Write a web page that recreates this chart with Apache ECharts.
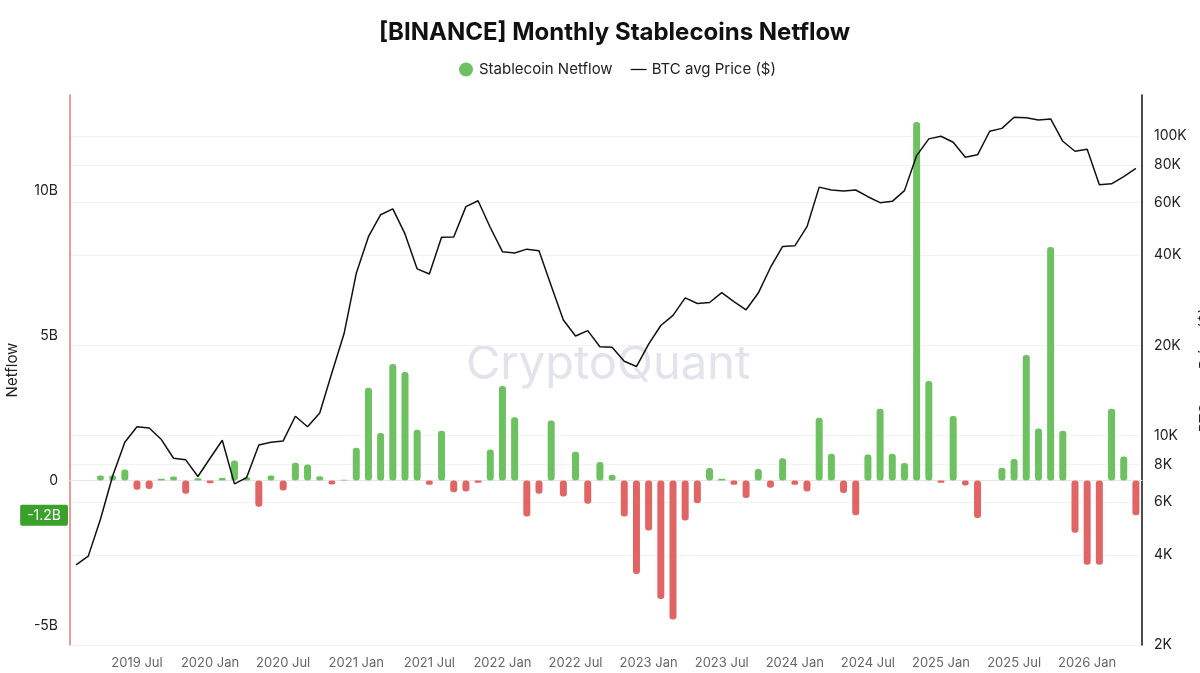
<!DOCTYPE html>
<html>
<head>
<meta charset="utf-8">
<title>[BINANCE] Monthly Stablecoins Netflow</title>
<script src="https://cdn.jsdelivr.net/npm/echarts@6/dist/echarts.min.js"></script>
<style>
    html, body { margin: 0; padding: 0; background: #fff; }
    #chart { width: 1200px; height: 673px; }
</style>
</head>
<body>
<div id="chart"></div>
<script>
// months, 2019-02 .. 2026-05
const months = [
    '2019-02', '2019-03', '2019-04', '2019-05', '2019-06', '2019-07', '2019-08', '2019-09', '2019-10', '2019-11', '2019-12',
    '2020-01', '2020-02', '2020-03', '2020-04', '2020-05', '2020-06', '2020-07', '2020-08', '2020-09', '2020-10', '2020-11', '2020-12',
    '2021-01', '2021-02', '2021-03', '2021-04', '2021-05', '2021-06', '2021-07', '2021-08', '2021-09', '2021-10', '2021-11', '2021-12',
    '2022-01', '2022-02', '2022-03', '2022-04', '2022-05', '2022-06', '2022-07', '2022-08', '2022-09', '2022-10', '2022-11', '2022-12',
    '2023-01', '2023-02', '2023-03', '2023-04', '2023-05', '2023-06', '2023-07', '2023-08', '2023-09', '2023-10', '2023-11', '2023-12',
    '2024-01', '2024-02', '2024-03', '2024-04', '2024-05', '2024-06', '2024-07', '2024-08', '2024-09', '2024-10', '2024-11', '2024-12',
    '2025-01', '2025-02', '2025-03', '2025-04', '2025-05', '2025-06', '2025-07', '2025-08', '2025-09', '2025-10', '2025-11', '2025-12',
    '2026-01', '2026-02', '2026-03', '2026-04', '2026-05'
];

// stablecoin netflow, billions USD
const netflow = [
    null, null, 0.17, 0.17, 0.38, -0.32, -0.29, 0.06, 0.14, -0.46, 0.08,
    -0.09, 0.09, 0.69, 0.11, -0.9, 0.17, -0.34, 0.61, 0.55, 0.15, -0.14, 0.03,
    1.13, 3.2, 1.64, 4.02, 3.74, 1.75, -0.15, 1.72, -0.4, -0.38, -0.08, 1.07,
    3.26, 2.18, -1.24, -0.46, 2.07, -0.55, 0.99, -0.8, 0.64, 0.2, -1.24, -3.22,
    -1.72, -4.08, -4.79, -1.38, -0.78, 0.43, 0.06, -0.15, -0.6, 0.4, -0.25, 0.77,
    -0.15, -0.38, 2.16, 0.92, -0.43, -1.2, 0.9, 2.47, 0.92, 0.6, 12.36, 3.43,
    -0.08, 2.22, -0.17, -1.29, null, 0.44, 0.74, 4.33, 1.79, 8.05, 1.72, -1.8,
    -2.9, -2.9, 2.47, 0.83, -1.2
];

// BTC monthly average price, USD
const btcPrice = [
    3700, 3960, 5260, 7330, 9500, 10700, 10600, 9700, 8400, 8300, 7300,
    8400, 9650, 6900, 7240, 9300, 9500, 9600, 11600, 10700, 11900, 16200, 21900,
    34800, 46100, 54600, 57100, 47100, 36000, 34600, 45900, 46000, 58100, 60800, 49500,
    41100, 40700, 41900, 41400, 31600, 24300, 21500, 22400, 19800, 19700, 17700, 17000,
    20200, 23300, 25200, 28800, 27600, 27800, 30000, 28000, 26300, 29900, 36400, 42800,
    43000, 49800, 67500, 66000, 65500, 66000, 62700, 59900, 60500, 65700, 86000, 97800,
    99800, 95300, 84900, 86500, 103700, 106000, 115500, 115000, 113000, 114000, 96000, 88900,
    90300, 68700, 69200, 73200, 78000
];

const netflowTicks = [-5, 0, 5, 10];
const priceTicks = [2000, 4000, 6000, 8000, 10000, 20000, 40000, 60000, 80000, 100000];
const lastNetflow = netflow[netflow.length - 1];

const GREEN = '#6dc161';
const RED = '#e26565';
const monthNames = {'01': 'Jan', '07': 'Jul'};
const FONT = 'Inter, "Noto Sans", sans-serif';

let myChart = echarts.init(document.getElementById('chart'));

let barData = netflow.map(function (v) {
    return {
        value: v,
        itemStyle: {color: v >= 0 ? GREEN : RED}
    };
});

function isHalfYear(index) {
    let m = months[index].slice(5);
    return m === '01' || m === '07';
}

let option = {
    animation: false,
    textStyle: {fontFamily: FONT},
    title: {
        text: '[BINANCE] Monthly Stablecoins Netflow',
        left: 374,
        top: 16,
        textStyle: {fontSize: 24, fontWeight: 'bold', color: '#111', fontFamily: FONT}
    },
    legend: {
        top: 57,
        left: 454,
        itemGap: 18,
        itemWidth: 16,
        itemHeight: 14,
        textStyle: {fontSize: 15, color: '#222'},
        data: [
            {name: 'Stablecoin Netflow', icon: 'circle', itemStyle: {color: GREEN}},
            {name: 'BTC avg Price ($)', icon: 'path://M0,0L20,0L20,1.6L0,1.6Z', itemStyle: {color: '#111'}}
        ]
    },
    grid: {left: 70, right: 58, top: 95, bottom: 28, outerBoundsMode: 'none'},
    graphic: [{
        type: 'text',
        left: 466,
        top: 341,
        z: -10,
        style: {
            text: 'CryptoQuant',
            fontSize: 47,
            fontFamily: FONT,
            fill: '#e2e3eb'
        }
    }],
    xAxis: {
        type: 'category',
        data: months,
        boundaryGap: true,
        axisLine: {lineStyle: {color: '#e6e6e6'}},
        axisTick: {
            alignWithLabel: true,
            length: 5,
            interval: isHalfYear,
            lineStyle: {color: '#d8d8d8'}
        },
        axisLabel: {
            interval: isHalfYear,
            color: '#666',
            fontSize: 13,
            margin: 12,
            formatter: function (v) {
                return v.slice(0, 4) + ' ' + monthNames[v.slice(5)];
            }
        }
    },
    yAxis: [
        {
            type: 'value',
            name: 'Netflow',
            nameLocation: 'middle',
            nameGap: 50,
            nameTextStyle: {fontSize: 15, color: '#222'},
            min: -5.67,
            max: 13.29,
            axisLine: {show: true, lineStyle: {color: '#e07a7a', width: 1.5}},
            axisTick: {show: false},
            splitLine: {show: false},
            axisLabel: {
                customValues: netflowTicks,
                color: '#222',
                fontSize: 14,
                margin: 12,
                formatter: function (v) {
                    return v === 0 ? '0' : v + 'B';
                }
            }
        },
        {
            type: 'log',
            logBase: 10,
            position: 'right',
            name: 'BTC avg Price ($)',
            nameLocation: 'middle',
            nameGap: 56,
            nameTextStyle: {fontSize: 15, color: '#222'},
            min: 2000,
            max: 137000,
            axisLine: {show: true, lineStyle: {color: '#111', width: 1.5}},
            axisTick: {show: false, customValues: priceTicks},
            splitLine: {show: true, lineStyle: {color: '#f2f2f2'}},
            axisLabel: {
                customValues: priceTicks,
                color: '#222',
                fontSize: 14,
                margin: 12,
                formatter: function (v) {
                    return Math.round(v / 1000) + 'K';
                }
            }
        }
    ],
    series: [
        {
            name: 'Stablecoin Netflow',
            type: 'bar',
            yAxisIndex: 0,
            barWidth: 7,
            itemStyle: {borderRadius: 3},
            data: barData,
            markLine: {
                silent: true,
                symbol: 'none',
                lineStyle: {color: 'rgba(0,0,0,0)', type: 'solid', width: 1},
                label: {
                    show: true,
                    position: 'start',
                    distance: 2,
                    formatter: lastNetflow + 'B',
                    color: '#fff',
                    fontSize: 14,
                    backgroundColor: '#3aa12a',
                    borderRadius: 2,
                    padding: [4, 7, 3, 7]
                },
                data: [{yAxis: lastNetflow}]
            }
        },
        {
            name: 'BTC avg Price ($)',
            type: 'line',
            yAxisIndex: 1,
            symbol: 'none',
            smooth: false,
            lineStyle: {color: '#111', width: 1.5},
            itemStyle: {color: '#111'},
            data: btcPrice
        }
    ]
};

myChart.setOption(option);
</script>
</body>
</html>
